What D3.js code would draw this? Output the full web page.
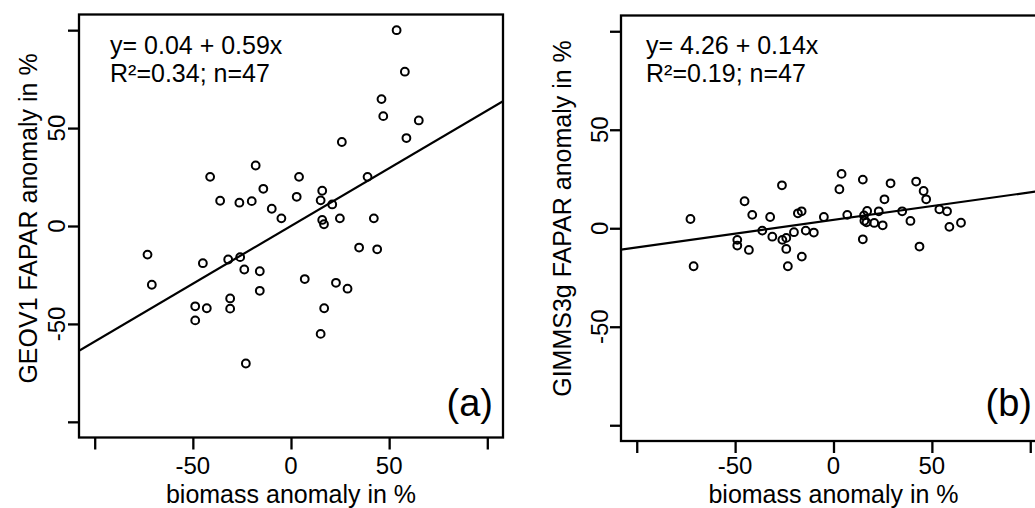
<!DOCTYPE html>
<html><head><meta charset="utf-8">
<script src="https://cdn.jsdelivr.net/npm/d3@7"></script>
<style>
html,body{margin:0;padding:0;background:#fff;}
svg{display:block;font-family:"Liberation Sans",Arial,sans-serif;}
</style></head>
<body>
<svg id="chart" width="1035" height="508"></svg>
<script>
// ---- data ----
const tickValues = [-100, -50, 0, 50, 100];
const tickLabels = ["", "-50", "0", "50", ""];
const xTitle = "biomass anomaly in %";

// panel (a): GEOV1
const geovX = [53.8,58.0,46.1,47.0,65.1,58.8,25.9,-41.2,-18.0,4.1,39.0,-36.1,-26.3,-20.0,-14.1,-9.8,-4.9,2.9,15.9,15.1,21.0,15.9,16.8,24.9,42.2,34.7,43.9,-73.1,-70.9,-44.9,-32.0,-25.9,-23.8,-15.9,-15.9,-31.0,-31.0,-48.8,-42.9,-48.8,-23.0,7.0,22.9,28.8,16.9,15.1];
const geovY = [100.0,78.8,64.8,56.1,53.9,44.9,42.9,25.1,30.9,25.1,25.1,12.9,11.9,12.7,19.0,8.8,3.9,14.9,18.0,13.1,11.0,3.1,0.9,3.9,3.9,-11.0,-11.9,-14.6,-30.0,-19.0,-17.1,-15.9,-22.2,-23.1,-33.1,-37.0,-42.2,-41.0,-42.0,-48.2,-70.2,-27.1,-29.0,-32.0,-42.0,-55.1];
const geovFit = [0.04, 0.59];
const geovText = ["y= 0.04 + 0.59x", "R\u00B2=0.34; n=47"];

// panel (b): GIMMS3g
const gimmsX = [-72.7,-45.2,-41.3,-32.2,-26.2,-36.2,-31.1,-48.9,-48.9,-43.0,-26.0,-24.0,-24.0,-20.1,-18.1,-16.2,-14.1,-10.0,-16.1,-4.9,3.0,4.1,7.0,14.9,14.9,15.5,17.1,15.7,16.8,20.7,23.0,25.0,25.9,29.0,34.9,39.1,42.0,45.8,47.1,43.7,53.8,57.7,58.9,64.8,-71.1,-23.2];
const gimmsY = [4.7,13.7,6.8,5.7,21.8,-1.2,-4.3,-5.9,-8.8,-11.0,-5.9,-4.9,-10.5,-2.0,7.6,8.6,-1.2,-2.2,-14.4,5.7,19.8,27.6,6.8,24.7,-5.6,6.5,8.8,3.8,3.0,2.7,8.6,1.5,14.7,22.8,8.6,3.7,23.7,18.9,14.7,-9.3,9.6,8.6,0.7,2.8,-19.3,-19.3];
const gimmsFit = [4.26, 0.14];
const gimmsText = ["y= 4.26 + 0.14x", "R\u00B2=0.19; n=47"];

const panels = [
  {xs: geovX, ys: geovY, fit: geovFit, txt: geovText, tag: "(a)", ytitle: "GEOV1 FAPAR anomaly in %",
   left: 79, right: 503, top: 14.5, bottom: 437.5, ytickX: 65, xtickY: 474, ytitleX: 37, ytitleY: 218.5,
   xtitleY: 503, textX: 110, tagX: 493},
  {xs: gimmsX, ys: gimmsY, fit: gimmsFit, txt: gimmsText, tag: "(b)", ytitle: "GIMMS3g FAPAR anomaly in %",
   left: 621, right: 1046, top: 15.5, bottom: 441, ytickX: 608, xtickY: 474, ytitleX: 571, ytitleY: 218.5,
   xtitleY: 503, textX: 646, tagX: 1032}
];

const svg = d3.select("#chart");
const domain = [-108, 108];

panels.forEach(p => {
  const x = d3.scaleLinear().domain(domain).range([p.left, p.right]);
  const y = d3.scaleLinear().domain(domain).range([p.bottom, p.top]);
  const g = svg.append("g");

  const cid = "clip" + p.tag.replace(/[()]/g, "");
  svg.append("clipPath").attr("id", cid).append("rect")
    .attr("x", p.left).attr("y", p.top).attr("width", p.right - p.left).attr("height", p.bottom - p.top);

  // regression line
  g.append("line")
    .attr("clip-path", `url(#${cid})`)
    .attr("x1", x(domain[0])).attr("y1", y(p.fit[0] + p.fit[1] * domain[0]))
    .attr("x2", x(domain[1])).attr("y2", y(p.fit[0] + p.fit[1] * domain[1]))
    .attr("stroke", "#000").attr("stroke-width", 2.2);

  // points
  g.selectAll("circle.pt").data(p.xs.map((v, i) => [v, p.ys[i]])).enter().append("circle")
    .attr("class", "pt")
    .attr("cx", d => x(d[0])).attr("cy", d => y(d[1])).attr("r", 3.9)
    .attr("fill", "none").attr("stroke", "#000").attr("stroke-width", 2);

  // box
  g.append("rect").attr("x", p.left).attr("y", p.top)
    .attr("width", p.right - p.left).attr("height", p.bottom - p.top)
    .attr("fill", "none").attr("stroke", "#000").attr("stroke-width", 2.3);

  // x axis ticks
  const xa = g.append("g").attr("transform", `translate(0,${p.bottom})`)
    .call(d3.axisBottom(x).tickValues(tickValues).tickSizeInner(12).tickSizeOuter(0).tickFormat(() => ""));
  xa.select(".domain").remove();
  xa.selectAll(".tick line").attr("stroke-width", 2.3);
  g.selectAll("text.xt").data(tickValues).enter().append("text")
    .attr("class", "xt")
    .attr("x", d => x(d)).attr("y", p.xtickY).attr("text-anchor", "middle")
    .attr("font-size", 24).text((d, i) => tickLabels[i]);

  // y axis ticks
  const ya = g.append("g").attr("transform", `translate(${p.left},0)`)
    .call(d3.axisLeft(y).tickValues(tickValues).tickSizeInner(11).tickSizeOuter(0).tickFormat(() => ""));
  ya.select(".domain").remove();
  ya.selectAll(".tick line").attr("stroke-width", 2.3);
  g.selectAll("text.yt").data(tickValues).enter().append("text")
    .attr("class", "yt")
    .attr("transform", d => `translate(${p.ytickX},${y(d)}) rotate(-90)`)
    .attr("text-anchor", "middle").attr("font-size", 24).text((d, i) => tickLabels[i]);

  // axis titles
  g.append("text").attr("x", (p.left + p.right) / 2).attr("y", p.xtitleY)
    .attr("text-anchor", "middle").attr("font-size", 25).text(xTitle);
  g.append("text").attr("transform", `translate(${p.ytitleX},${p.ytitleY}) rotate(-90)`)
    .attr("text-anchor", "middle").attr("font-size", 25).text(p.ytitle);

  // annotation
  p.txt.forEach((t, i) => {
    g.append("text").attr("x", p.textX).attr("y", 54 + i * 28)
      .attr("font-size", 25).text(t);
  });
  g.append("text").attr("x", p.tagX).attr("y", 416).attr("text-anchor", "end")
    .attr("font-size", 38).text(p.tag);
});
</script>
</body></html>
